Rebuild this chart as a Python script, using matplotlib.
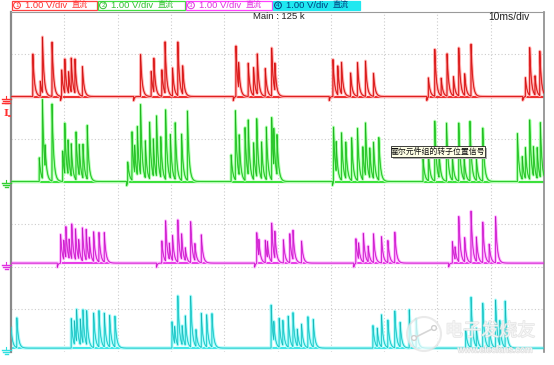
import numpy as np
import matplotlib
matplotlib.use("Agg")
import matplotlib.pyplot as plt
import matplotlib.patheffects as pe
from matplotlib.patches import Rectangle, Circle

# ---------------- data (time in divisions, amplitude in divisions) ----------------
ch1_times = [0.41, 0.55, 0.59, 0.77, 0.95, 1.01, 1.08, 1.13, 1.20, 1.34,
             2.43, 2.63, 2.68, 2.83, 2.89, 3.03, 3.13, 3.22,
             4.22, 4.27, 4.45, 4.55, 4.62, 4.77, 4.89, 4.95,
             6.04, 6.13, 6.20, 6.37, 6.50, 6.65, 6.80,
             7.83, 7.95, 8.07, 8.18, 8.30, 8.40, 8.51, 8.63,
             9.65, 9.73, 9.83, 9.92]
ch1_amps = [1.0, 0.35, 1.31, 1.28, 0.65, 0.8, 0.5, 0.8, 0.8, 0.7,
            1.0, 0.6, 0.8, 0.63, 1.22, 0.67, 1.28, 0.67,
            1.22, 0.59, 0.8, 0.67, 0.96, 0.67, 1.16, 0.65,
            0.9, 0.7, 0.76, 0.57, 0.82, 0.86, 0.56,
            0.47, 1.15, 0.43, 1.04, 0.47, 1.18, 0.53, 1.28,
            0.47, 1.18, 0.47, 1.1]
ch1_dips = [0.93, 2.30, 4.17, 5.97, 7.80, 9.60]

ch2_times = [0.53, 0.59, 0.64, 0.77, 0.97, 1.01, 1.07, 1.13, 1.22, 1.28, 1.35, 1.43,
             2.19, 2.27, 2.32, 2.37, 2.43, 2.52, 2.60, 2.67, 2.73, 2.81, 2.90, 2.99, 3.08, 3.20, 3.31,
             4.13, 4.21, 4.28, 4.39, 4.45, 4.55, 4.61, 4.70, 4.79, 4.89, 4.93, 4.99,
             6.05, 6.10, 6.20, 6.28, 6.39, 6.50, 6.60, 6.65, 6.73, 6.80, 6.90,
             7.73, 7.83, 7.95, 8.03, 8.17, 8.28, 8.40, 8.50, 8.61, 8.73, 8.85,
             9.50, 9.59, 9.65, 9.73, 9.80, 9.87, 9.93]
ch2_amps = [0.56, 1.86, 0.5, 1.82, 0.72, 1.19, 0.8, 0.76, 1.13, 0.72, 0.8, 1.27,
            0.49, 1.15, 0.64, 1.15, 1.66, 0.88, 1.35, 0.88, 1.43, 0.96, 1.66, 1.04, 1.35, 1.11, 1.66,
            0.64, 1.66, 0.96, 1.27, 1.31, 0.88, 1.39, 0.88, 1.27, 1.5, 0.88, 0.96,
            1.35, 0.72, 1.15, 0.88, 1.04, 1.27, 0.8, 1.27, 0.72, 0.88, 1.04,
            0.56, 0.72, 1.47, 0.64, 1.43, 0.6, 1.43, 0.55, 1.47, 0.55, 1.31,
            1.19, 0.56, 0.76, 1.47, 0.72, 0.76, 1.35]
ch2_dips = [2.17, 6.03]

ch3_times = [0.93, 0.99, 1.03, 1.09, 1.14, 1.21, 1.27, 1.34, 1.41, 1.47, 1.55, 1.65, 1.75,
             2.83, 2.90, 2.97, 3.03, 3.13, 3.20, 3.27, 3.37, 3.45, 3.57,
             4.61, 4.65, 4.77, 4.81, 4.89, 4.95, 5.11, 5.23, 5.29, 5.45,
             6.47, 6.52, 6.61, 6.70, 6.80, 6.95, 7.07, 7.20,
             8.28, 8.33, 8.40, 8.51, 8.63, 8.73, 8.85, 8.97, 9.09]
ch3_amps = [0.68, 0.45, 0.72, 0.45, 0.82, 0.72, 0.45, 0.78, 0.72, 0.5, 0.7, 0.7, 0.7,
            0.53, 0.96, 0.38, 0.6, 1.01, 0.6, 0.3, 0.98, 0.4, 0.67,
            0.74, 0.38, 0.54, 0.38, 0.93, 0.64, 0.56, 0.7, 0.7, 0.53,
            0.6, 0.38, 0.7, 0.38, 0.7, 0.64, 0.54, 0.75,
            0.53, 0.3, 1.11, 0.6, 1.27, 0.6, 1.0, 0.45, 1.14]
ch3_dips = [0.87, 2.73, 4.57, 6.43, 8.21]

ch4_times = [-0.02, 0.11,
             1.13, 1.19, 1.23, 1.30, 1.35, 1.42, 1.55, 1.65, 1.75, 1.85, 1.95,
             3.02, 3.07, 3.13, 3.21, 3.27, 3.37, 3.47, 3.57, 3.67, 3.77,
             4.88, 4.93, 5.03, 5.10, 5.20, 5.29, 5.37, 5.45, 5.57, 5.67,
             6.79, 6.87, 6.95, 7.07, 7.20, 7.30, 7.47, 7.60,
             8.53, 8.63, 8.73, 8.85, 8.97, 9.09, 9.17, 9.27]
ch4_amps = [0.95, 0.7,
            0.7, 0.55, 0.75, 0.6, 0.78, 0.8, 0.82, 0.86, 0.8, 0.75, 0.73,
            0.63, 0.4, 1.18, 0.45, 0.7, 1.22, 0.4, 0.82, 0.77, 0.8,
            1.04, 0.45, 0.7, 0.6, 0.75, 0.82, 0.4, 0.55, 0.75, 0.67,
            0.55, 0.45, 0.78, 0.67, 0.9, 0.6, 0.94, 0.7,
            0.45, 1.24, 0.45, 1.1, 0.6, 1.18, 0.6, 1.14]
ch4_dips = []

baselines = [6.0, 4.0, 2.08, 0.08]
header_labels = ["1.00 V/div", "1.00 V/div", "1.00 V/div", "1.00 V/div"]
timebase_label = "10ms/div"
sample_label = "Main : 125 k"
tooltip_label = "霍尔元件组的转子位置信号"

# ---------------- figure ----------------
W, H = 554, 365
fig = plt.figure(figsize=(W / 100, H / 100), dpi=100)
fig.patch.set_facecolor("white")

L, R, T, B = 11, 544, 11.5, 351.5
ax = fig.add_axes([L / W, (H - B) / H, (R - L) / W, (B - T) / H])
ax.set_xlim(0, 10)
ax.set_ylim(0, 8)
ax.set_xticks([])
ax.set_yticks([])
for i in range(1, 10):
    ax.axvline(i, color="#cccccc", lw=0.8, ls=(0, (1, 2)), zorder=0)
for j in range(1, 8):
    ax.axhline(j, color="#cccccc", lw=0.8, ls=(0, (1, 2)), zorder=0)
ax.spines["left"].set_color("#8a8a8a")
ax.spines["left"].set_linewidth(1.6)
ax.spines["right"].set_color("#8a8a8a")
ax.spines["right"].set_linewidth(1.2)
ax.spines["top"].set_color("#9a9a9a")
ax.spines["top"].set_linewidth(0.8)
ax.spines["bottom"].set_visible(False)

t = np.linspace(0, 10, 6000)
TAU = 0.03


def wave(times, amps, dips, base):
    y = np.full_like(t, base)
    for ti, ai in zip(times, amps):
        m = t >= ti
        y[m] += ai * np.exp(-(t[m] - ti) / TAU)
    for ti in dips:
        m = t >= ti
        y[m] -= 0.1 * np.exp(-(t[m] - ti) / 0.015)
    return y


chans = [
    (ch1_times, ch1_amps, ch1_dips, "#ffb4b4", "#f03030", "#b00000"),
    (ch2_times, ch2_amps, ch2_dips, "#b4ffb4", "#3ce03c", "#109010"),
    (ch3_times, ch3_amps, ch3_dips, "#ffbcff", "#e840e8", "#a800a8"),
    (ch4_times, ch4_amps, ch4_dips, "#b0fafa", "#40e8e8", "#009090"),
]
for (tm, am, dp, light, mid, dark), base in zip(chans, baselines):
    y = wave(tm, am, dp, base)
    ax.plot(t, y, color=light, lw=2.2, zorder=2)
    ax.plot(t, y, color=mid, lw=0.8, zorder=3)
    ax.plot(t, y, color=dark, lw=0.35, zorder=4, alpha=0.6)
    ax.plot([0, 10], [base, base], color=mid, lw=1.6, zorder=1.5)

# ---------------- overlay (pixel coordinates) ----------------
ov = fig.add_axes([0, 0, 1, 1])
ov.set_xlim(0, W)
ov.set_ylim(H, 0)
ov.axis("off")
ov.patch.set_alpha(0)

cjk = ["Noto Sans CJK SC", "DejaVu Sans"]
num_font = ["Liberation Sans", "DejaVu Sans", "Noto Sans CJK SC"]

# header boxes
boxes = [(11, 97, "#ff4040", "white", "#ff3030"),
         (97, 185, "#40e040", "white", "#30c030"),
         (185, 272, "#ff40ff", "white", "#e030e0"),
         (272, 360, "#20e8f0", "#20e8f0", "#004080")]
for k, ((x0, x1, ec, fc, tc), lab) in enumerate(zip(boxes, header_labels)):
    ov.add_patch(Rectangle((x0 + 0.5, 0.5), x1 - x0 - 1, 9.5, facecolor=fc,
                           edgecolor=ec, lw=0.9))
    ov.add_patch(Circle((x0 + 6, 5.3), 3.4, facecolor="none", edgecolor=tc, lw=0.7))
    ov.text(x0 + 6, 5.5, str(k + 1), fontsize=4.5, color=tc, ha="center",
            va="center", family=num_font)
    ov.text(x0 + 14, 6.0, lab, fontsize=6.8, color=tc, ha="left", va="center",
            family=num_font)
    ov.text(x0 + 61, 5.8, "直流", fontsize=5.8, color=tc, ha="left", va="center",
            family=cjk)

ov.text(253, 16.5, sample_label, fontsize=6.8, color="#202020", ha="left",
        va="center", family=num_font)
ov.text(530, 16.5, timebase_label, fontsize=7.4, color="#202020", ha="right",
        va="center", family=num_font)


# ground markers on the left
def ground(y, color):
    ov.plot([6, 6], [y - 3, y], color=color, lw=0.8)
    ov.plot([1.5, 10.5], [y, y], color=color, lw=1.0)
    ov.plot([3, 9], [y + 2, y + 2], color=color, lw=1.0)
    ov.plot([4.5, 7.5], [y + 4, y + 4], color=color, lw=1.0)


ground(98.5, "#ff3030")
ground(183, "#30d030")
ground(265, "#e030e0")
ground(350, "#30e0e0")
ov.plot([2, 10], [103, 103], color="#ff3030", lw=1.0)
ov.text(5.5, 113, "I", fontsize=7.5, color="#ff3030", ha="center", va="center",
        fontweight="bold", family="DejaVu Serif")
ov.plot([8.5, 10], [116, 116], color="#ff3030", lw=1.2)

# tooltip
ov.add_patch(Rectangle((393, 147.5), 94, 11, facecolor="#b0b0b0", edgecolor="none",
                       zorder=5))
ov.add_patch(Rectangle((390.5, 145.5), 94, 11, facecolor="#ffffe6", edgecolor="#202020",
                       lw=0.6, zorder=6))
ov.text(437.5, 151, tooltip_label, fontsize=5.7, color="#101010", ha="center",
        va="center", family=cjk, zorder=7)

# watermark (faint)
ov.add_patch(Circle((424, 334), 17, facecolor="white", edgecolor="#e2e2e2",
                    lw=1.5, alpha=0.7, zorder=8))
ov.plot([414, 434], [338, 328], color="#d6d6d6", lw=1.2, zorder=9)
ov.add_patch(Circle((414, 338), 2.4, facecolor="white", edgecolor="#d0d0d0", lw=1,
                    zorder=9))
ov.add_patch(Circle((434, 328), 2.4, facecolor="white", edgecolor="#d0d0d0", lw=1,
                    zorder=9))
ov.text(490, 331, "电子发烧友", fontsize=13, color="white", ha="center", va="center",
        family=cjk, zorder=9, alpha=0.6,
        path_effects=[pe.withStroke(linewidth=1.0, foreground="#d4d4d4")])
ov.text(495, 350, "www.elecfans.com", fontsize=6.5, color="white", ha="center",
        va="center", family=num_font, zorder=9, alpha=0.8,
        path_effects=[pe.withStroke(linewidth=1.0, foreground="#d8d8d8")])

fig.savefig("out.png", dpi=100)
